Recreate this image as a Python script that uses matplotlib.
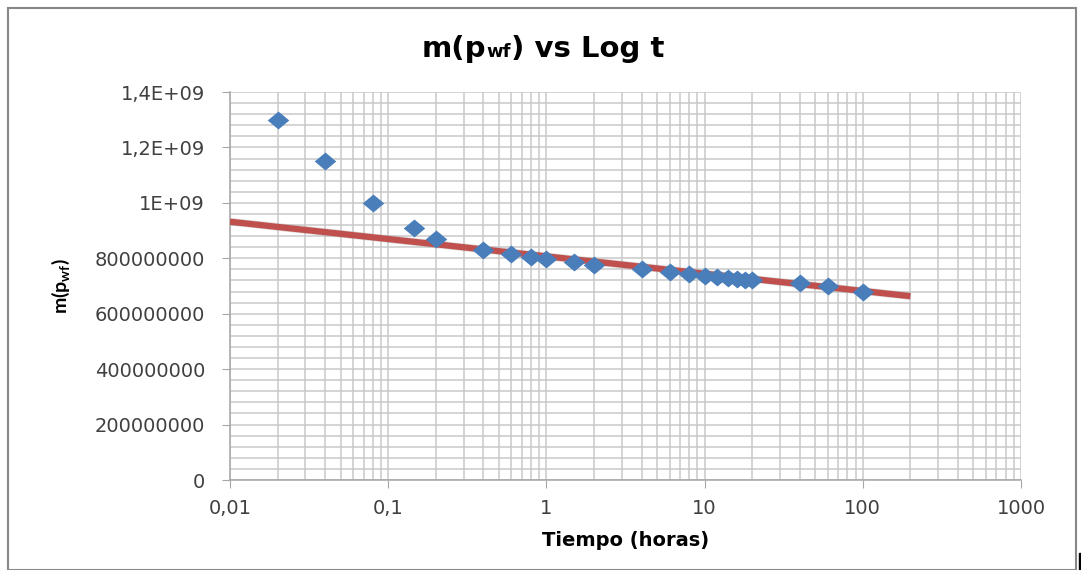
import numpy as np
import matplotlib
matplotlib.use("Agg")
import matplotlib.pyplot as plt
from matplotlib.ticker import FixedLocator, FixedFormatter, LogLocator, MultipleLocator
from matplotlib.patches import Rectangle
from matplotlib.offsetbox import TextArea, HPacker, AnchoredOffsetbox

plt.rcParams['font.family'] = ['DejaVu Sans']
plt.rcParams['mathtext.fontset'] = 'custom'
plt.rcParams['mathtext.rm'] = 'Lato:bold'

# data
tiempo = [0.02, 0.04, 0.08, 0.145, 0.2, 0.4, 0.6, 0.8, 1, 1.5, 2, 4, 6, 8, 10,
          12, 14, 16, 18, 20, 40, 60, 100]
m_pwf = [1.30e9, 1.15e9, 1.00e9, 0.91e9, 0.87e9, 0.83e9, 0.815e9, 0.805e9,
         0.797e9, 0.787e9, 0.777e9, 0.762e9, 0.751e9, 0.743e9, 0.737e9,
         0.732e9, 0.729e9, 0.726e9, 0.723e9, 0.721e9, 0.712e9, 0.700e9, 0.680e9]

# log trendline (Excel style): m = a + b*log10(t)
trend_a = 0.807e9
trend_b = -0.0625e9
trend_t = [0.01, 200]

y_ticks = [0, 2e8, 4e8, 6e8, 8e8, 1e9, 1.2e9, 1.4e9]
y_labels = ['0', '200000000', '400000000', '600000000', '800000000',
            '1E+09', '1,2E+09', '1,4E+09']
x_ticks = [0.01, 0.1, 1, 10, 100, 1000]
x_labels = ['0,01', '0,1', '1', '10', '100', '1000']

fig = plt.figure(figsize=(10.81, 5.70), dpi=100)
ax = fig.add_axes([230/1081, 1-480/570, (1021-230)/1081, (480-92)/570])

grid_c = '#c9c9c9'
ax.set_xscale('log')
ax.set_xlim(0.01, 1000)
ax.set_ylim(0, 1.4e9)

ax.xaxis.set_major_locator(FixedLocator(x_ticks))
ax.xaxis.set_major_formatter(FixedFormatter(x_labels))
ax.xaxis.set_minor_locator(LogLocator(base=10, subs=np.arange(2, 10)))
ax.xaxis.set_minor_formatter(FixedFormatter([]))
ax.yaxis.set_major_locator(FixedLocator(y_ticks))
ax.yaxis.set_major_formatter(FixedFormatter(y_labels))
ax.yaxis.set_minor_locator(MultipleLocator(4e7))

ax.grid(True, which='both', color=grid_c, lw=1.1)
ax.set_axisbelow(True)
for s in ['top', 'right']:
    ax.spines[s].set_visible(False)
for s in ['left', 'bottom']:
    ax.spines[s].set_color('#a6a6a6')
    ax.spines[s].set_linewidth(1.1)
ax.tick_params(which='major', direction='out', length=6, color='#a6a6a6',
               labelsize=14, labelcolor='#404040')
ax.tick_params(which='minor', length=0)
ax.tick_params(axis='x', pad=8)
ax.tick_params(axis='y', pad=12)

tt = np.array(trend_t)
ax.plot(tt, trend_a + trend_b*np.log10(tt), color='#9a9a9a', lw=5.5, alpha=0.35,
        zorder=2, solid_capstyle='butt')
ax.plot(tt, trend_a + trend_b*np.log10(tt), color='#c0504d', lw=4.5,
        zorder=3, solid_capstyle='butt')
diamond = [(-1.2, 0), (0, 1), (1.2, 0), (0, -1), (-1.2, 0)]
ax.scatter(tiempo, m_pwf, marker=diamond, s=240, color='#4a7ebb', zorder=4,
           linewidths=0)

# title with small "wf" sitting on the baseline
t1 = TextArea('m(p', textprops=dict(fontsize=21, fontweight='bold'))
t2 = TextArea('wf', textprops=dict(fontsize=13, fontweight='bold'))
t3 = TextArea(') vs Log t', textprops=dict(fontsize=21, fontweight='bold'))
title_box = HPacker(children=[t1, t2, t3], align='baseline', pad=0, sep=0)
fig.add_artist(AnchoredOffsetbox(loc='center', child=title_box, frameon=False,
                                 bbox_to_anchor=(543/1081, 1-49/570),
                                 bbox_transform=fig.transFigure,
                                 borderpad=0, pad=0))

ax.set_xlabel('Tiempo (horas)', fontsize=14, fontweight='bold', labelpad=9)
ax.set_ylabel(r'm(p$_{\mathregular{wf}}$)', fontsize=14, fontweight='bold',
              family='Lato')
ax.yaxis.set_label_coords(-0.2, 0.5)

fig.patches.append(Rectangle((8/1081, 0), (1076-8)/1081, 1-8/570,
                             transform=fig.transFigure, fill=False,
                             edgecolor='#888888', lw=1.5))
fig.patches.append(Rectangle((1079/1081, 0), 3/1081, 17/570,
                             transform=fig.transFigure, color='black'))

fig.savefig('out.png', dpi=100)
